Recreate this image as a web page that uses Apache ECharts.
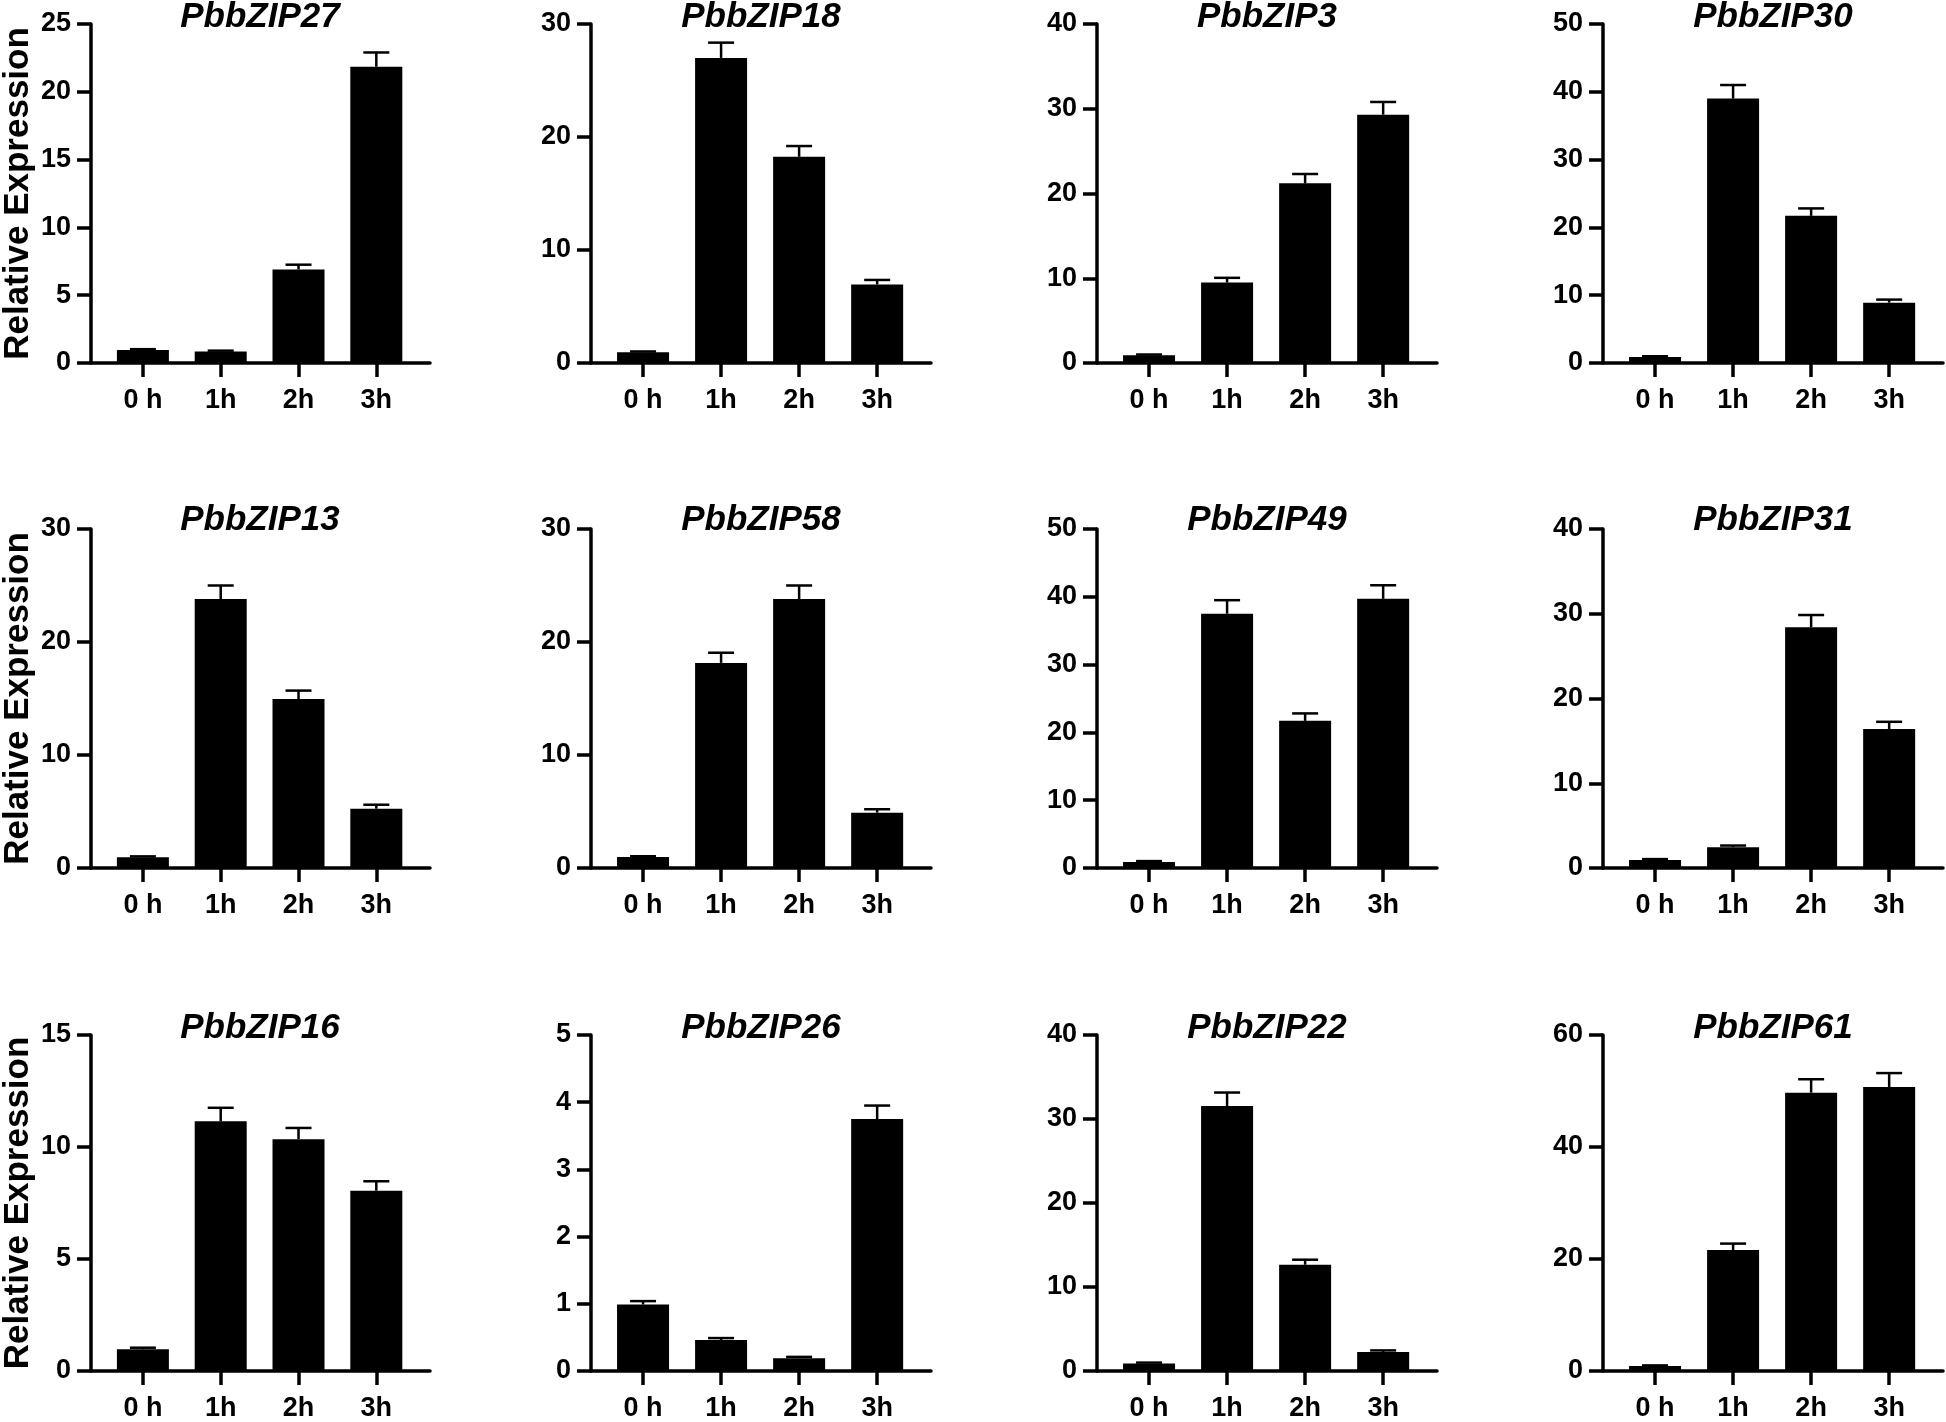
<!DOCTYPE html>
<html>
<head>
<meta charset="utf-8">
<script src="https://cdn.jsdelivr.net/npm/echarts@6/dist/echarts.min.js"></script>
<style>
  html, body { margin: 0; padding: 0; background: #fff; }
  #chart { width: 1946px; height: 1422px; }
</style>
</head>
<body>
<div id="chart"></div>
<script>
// ---- data ----
const categories = ['0 h', '1h', '2h', '3h'];
const genes = ['PbbZIP27', 'PbbZIP18', 'PbbZIP3', 'PbbZIP30',
               'PbbZIP13', 'PbbZIP58', 'PbbZIP49', 'PbbZIP31',
               'PbbZIP16', 'PbbZIP26', 'PbbZIP22', 'PbbZIP61'];
const meanValues = [
  [0.95, 0.85, 6.9, 21.85],
  [0.95, 27.0, 18.25, 6.95],
  [0.9, 9.5, 21.2, 29.3],
  [0.9, 39.0, 21.7, 8.9],
  [0.95, 23.8, 14.95, 5.25],
  [0.97, 18.15, 23.8, 4.9],
  [0.9, 37.5, 21.7, 39.7],
  [0.95, 2.45, 28.4, 16.4],
  [0.97, 11.15, 10.35, 8.05],
  [0.99, 0.46, 0.19, 3.75],
  [0.9, 31.55, 12.65, 2.25],
  [0.9, 21.6, 49.7, 50.7]
];
const errorValues = [
  [0.07, 0.06, 0.35, 1.05],
  [0.07, 1.35, 0.95, 0.4],
  [0.1, 0.55, 1.1, 1.5],
  [0.1, 2.0, 1.1, 0.45],
  [0.08, 1.2, 0.75, 0.35],
  [0.07, 0.9, 1.2, 0.3],
  [0.12, 2.0, 1.1, 2.0],
  [0.1, 0.2, 1.45, 0.85],
  [0.07, 0.6, 0.5, 0.42],
  [0.05, 0.03, 0.02, 0.2],
  [0.1, 1.6, 0.6, 0.2],
  [0.1, 1.15, 2.4, 2.5]
];
const yMaxValues = [25, 30, 40, 50, 30, 30, 50, 40, 15, 5, 40, 60];
const yIntervals = [5, 10, 10, 10, 10, 10, 10, 10, 5, 1, 10, 20];
const yAxisTitle = 'Relative Expression';

// ---- layout ----
const colLeft = [90, 591, 1097, 1603];
const rowTop = [24, 529, 1035];
const titleTop = [0, 503, 1011];
const gridW = 340, gridH = 339;
const xMin = -0.667, xMax = 3.69;
const FONT = '"Liberation Sans", Arial, Helvetica, sans-serif';

const grids = [], xAxes = [], yAxes = [], series = [], titles = [];
genes.forEach((g, k) => {
  const r = Math.floor(k / 4), c = k % 4;
  grids.push({ left: colLeft[c], top: rowTop[r], width: gridW, height: gridH, containLabel: false });
  titles.push({
    text: g, left: colLeft[c] + gridW / 2, top: titleTop[r], textAlign: 'center', padding: 0,
    textStyle: { fontFamily: FONT, fontSize: 35, fontWeight: 'bold', fontStyle: 'italic', color: '#000' }
  });
  xAxes.push({
    type: 'value', gridIndex: k, min: xMin, max: xMax,
    splitLine: { show: false },
    axisLine: { show: true, onZero: false, lineStyle: { color: '#000', width: 3.5 } },
    axisTick: { show: true, length: 14, lineStyle: { color: '#000', width: 3.5 }, customValues: [0, 1, 2, 3] },
    axisLabel: {
      customValues: [0, 1, 2, 3], margin: 24,
      formatter: v => categories[Math.round(v)],
      fontFamily: FONT, fontSize: 27, fontWeight: 'bold', color: '#000'
    }
  });
  yAxes.push({
    type: 'value', gridIndex: k, min: 0, max: yMaxValues[k], interval: yIntervals[k],
    name: c === 0 ? yAxisTitle : '', nameLocation: 'middle', nameGap: 55,
    nameTextStyle: { fontFamily: FONT, fontSize: 35, fontWeight: 'bold', color: '#000' },
    splitLine: { show: false },
    axisLine: { show: true, onZero: false, lineStyle: { color: '#000', width: 3.5 } },
    axisTick: { show: true, length: 14, lineStyle: { color: '#000', width: 3.5 } },
    axisLabel: { margin: 20, fontFamily: FONT, fontSize: 27, fontWeight: 'bold', color: '#000' }
  });
  series.push({
    type: 'bar', xAxisIndex: k, yAxisIndex: k, barWidth: 52,
    itemStyle: { color: '#000' },
    data: meanValues[k].map((v, i) => [i, v])
  });
  series.push({
    type: 'custom', xAxisIndex: k, yAxisIndex: k, z: 5,
    encode: { x: 0, y: 1 },
    data: meanValues[k].map((v, i) => [i, v, errorValues[k][i]]),
    renderItem: (params, api) => {
      const x = api.value(0), m = api.value(1), e = api.value(2);
      const p0 = api.coord([x, m]);
      const p1 = api.coord([x, m + e]);
      const hw = 13;
      const st = { stroke: '#000', lineWidth: 2.5 };
      return {
        type: 'group', children: [
          { type: 'line', shape: { x1: p0[0], y1: p0[1], x2: p1[0], y2: p1[1] }, style: st },
          { type: 'line', shape: { x1: p1[0] - hw, y1: p1[1], x2: p1[0] + hw, y2: p1[1] }, style: st }
        ]
      };
    }
  });
});

const chart = echarts.init(document.getElementById('chart'), null, { renderer: 'canvas' });
chart.setOption({
  backgroundColor: '#fff',
  animation: false,
  title: titles,
  grid: grids,
  xAxis: xAxes,
  yAxis: yAxes,
  series: series
});
</script>
</body>
</html>
